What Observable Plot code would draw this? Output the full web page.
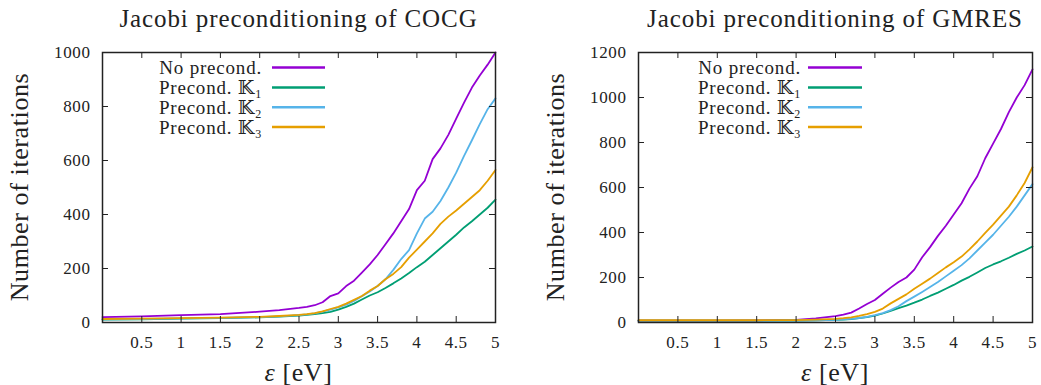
<!DOCTYPE html>
<html>
<head>
<meta charset="utf-8">
<script src="https://cdn.jsdelivr.net/npm/d3@7"></script>
<script src="https://cdn.jsdelivr.net/npm/@observablehq/plot@0.6"></script>
<style>
  body { margin: 0; background: white; }
  #wrap { display: flex; width: 1041px; height: 385px; }
  svg { display: block; }
</style>
</head>
<body>
<div id="wrap"></div>
<script>
// ---------- data ----------
const eps = [0, 0.5, 1, 1.5, 2, 2.25, 2.5, 2.6, 2.7, 2.8, 2.9, 3.0, 3.1, 3.2, 3.3, 3.4, 3.5, 3.6, 3.7, 3.8, 3.9, 4.0, 4.1, 4.2, 4.3, 4.4, 4.5, 4.6, 4.7, 4.8, 4.9, 5.0];

const seriesKeys = ["none", "K1", "K2", "K3"];
const seriesColors = ["#9400d3", "#009e73", "#56b4e9", "#e69f00"];
const legendMain = ["No precond.", "Precond. \u{1D542}", "Precond. \u{1D542}", "Precond. \u{1D542}"];
const legendSub = ["", "1", "2", "3"];

// Left panel: COCG
const cocgNone = [20, 23, 27, 31, 40, 46, 54, 58, 64, 75, 98, 108, 135, 155, 185, 215, 250, 290, 330, 375, 420, 490, 525, 605, 645, 695, 755, 814, 870, 915, 955, 1000];
const cocgK1   = [11, 12, 14, 16, 19, 22, 26, 28, 31, 35, 39, 48, 58, 70, 85, 100, 112, 128, 145, 163, 183, 205, 225, 250, 275, 300, 325, 352, 375, 400, 425, 455];
const cocgK2   = [12, 13, 15, 17, 20, 23, 27, 30, 34, 40, 48, 56, 66, 80, 97, 115, 135, 160, 195, 235, 268, 330, 385, 410, 450, 500, 555, 617, 675, 735, 790, 830];
const cocgK3   = [13, 14, 16, 18, 21, 24, 28, 31, 35, 41, 50, 58, 70, 84, 98, 118, 135, 160, 180, 205, 240, 270, 300, 330, 365, 392, 415, 440, 465, 490, 525, 565];

// Right panel: GMRES
const gmresNone = [8, 8, 8, 9, 12, 18, 28, 35, 44, 62, 82, 100, 128, 155, 180, 200, 235, 290, 335, 385, 430, 480, 530, 595, 650, 730, 795, 860, 935, 1000, 1055, 1125];
const gmresK1   = [8, 8, 8, 8, 9, 10, 12, 13, 15, 19, 24, 31, 40, 52, 64, 75, 88, 102, 118, 133, 150, 167, 186, 203, 222, 242, 258, 272, 288, 305, 320, 338];
const gmresK2   = [8, 8, 8, 8, 9, 10, 12, 14, 16, 20, 25, 33, 42, 55, 72, 95, 115, 136, 158, 180, 205, 230, 255, 285, 320, 355, 390, 430, 470, 515, 565, 615];
const gmresK3   = [10, 10, 10, 10, 11, 13, 16, 19, 23, 29, 37, 47, 62, 85, 105, 125, 150, 172, 195, 220, 245, 268, 293, 325, 360, 398, 435, 475, 515, 565, 620, 690];

const xTicks = [0.5, 1, 1.5, 2, 2.5, 3, 3.5, 4, 4.5, 5];
const yTicksCocg = [0, 200, 400, 600, 800, 1000];
const yTicksGmres = [0, 200, 400, 600, 800, 1000, 1200];

const titles = ["Jacobi preconditioning of COCG", "Jacobi preconditioning of GMRES"];
const yLabel = "Number of iterations";

// ---------- drawing ----------
const FONT = "'Liberation Serif', 'DejaVu Serif', serif";

function panel(cfg) {
  const rows = [];
  cfg.series.forEach((vals, i) => vals.forEach((v, j) => rows.push({x: eps[j], y: v, s: seriesKeys[i]})));
  const W = cfg.width, H = 385;
  const ml = cfg.ml, mr = cfg.mr, mt = 52, mb = 63;
  const iw = W - ml - mr, ih = H - mt - mb;
  const ink = "#222";
  const plot = Plot.plot({
    width: W, height: H,
    marginLeft: ml, marginRight: mr, marginTop: mt, marginBottom: mb,
    style: {fontFamily: FONT, fontSize: "17px", color: ink, background: "white", overflow: "visible", letterSpacing: "0.6px"},
    x: {domain: [0, 5]},
    y: {domain: [0, cfg.ymax]},
    color: {domain: seriesKeys, range: seriesColors},
    marks: [
      Plot.line(rows, {x: "x", y: "y", z: "s", stroke: "s", strokeWidth: 1.8}),
      Plot.tickX(xTicks, {x: d => d, insetTop: ih - 6, stroke: ink, strokeWidth: 1}),
      Plot.tickX(xTicks, {x: d => d, insetBottom: ih - 6, stroke: ink, strokeWidth: 1}),
      Plot.tickY(cfg.yTicks, {y: d => d, insetRight: iw - 6, stroke: ink, strokeWidth: 1}),
      Plot.tickY(cfg.yTicks, {y: d => d, insetLeft: iw - 6, stroke: ink, strokeWidth: 1}),
      Plot.frame({stroke: ink, strokeWidth: 1.5}),
      Plot.axisX(xTicks, {tickSize: 0, tickPadding: 13, label: null, tickFormat: d => String(d), fill: ink}),
      Plot.axisY(cfg.yTicks, {tickSize: 0, tickPadding: 12, label: null, tickFormat: d => String(d), fill: ink})
    ]
  });

  const svg = d3.select(plot);
  // title
  svg.append("text")
    .attr("x", ml + iw / 2).attr("y", 27)
    .attr("text-anchor", "middle")
    .attr("font-family", FONT).attr("font-size", 25).attr("letter-spacing", "0.9px").attr("fill", ink)
    .text(cfg.title);
  // y label
  svg.append("text")
    .attr("transform", `translate(${cfg.ylabX},${mt + ih / 2}) rotate(-90)`)
    .attr("text-anchor", "middle")
    .attr("font-family", FONT).attr("font-size", 26).attr("fill", ink)
    .text(yLabel);
  // x label
  const xl = svg.append("text")
    .attr("x", ml + iw / 2).attr("y", 381)
    .attr("text-anchor", "middle")
    .attr("font-family", FONT).attr("font-size", 26).attr("fill", ink);
  xl.append("tspan").attr("font-style", "italic").text("\u03B5");
  xl.append("tspan").text(" [eV]");

  // legend
  const rowY = [67.5, 87.5, 107.3, 127];
  seriesKeys.forEach((k, i) => {
    const t = svg.append("text")
      .attr("x", cfg.legTextX).attr("y", rowY[i] + 6.5)
      .attr("text-anchor", "end")
      .attr("font-family", FONT).attr("font-size", 19).attr("letter-spacing", "0.8px").attr("fill", ink);
    t.append("tspan").text(legendMain[i]);
    if (legendSub[i]) t.append("tspan").attr("font-size", 12).attr("dy", 4).text(legendSub[i]);
    svg.append("line")
      .attr("x1", cfg.legLineX[0]).attr("x2", cfg.legLineX[1])
      .attr("y1", rowY[i]).attr("y2", rowY[i])
      .attr("stroke", seriesColors[i]).attr("stroke-width", 2.5);
  });
  return plot;
}

const wrap = document.getElementById("wrap");
wrap.appendChild(panel({
  width: 520, ml: 102, mr: 25, ymax: 1000, yTicks: yTicksCocg,
  series: [cocgNone, cocgK1, cocgK2, cocgK3], title: titles[0],
  ylabX: 28, legTextX: 262, legLineX: [272, 325]
}));
wrap.appendChild(panel({
  width: 521, ml: 118, mr: 9, ymax: 1200, yTicks: yTicksGmres,
  series: [gmresNone, gmresK1, gmresK2, gmresK3], title: titles[1],
  ylabX: 44, legTextX: 281, legLineX: [288, 342]
}));
</script>
</body>
</html>
